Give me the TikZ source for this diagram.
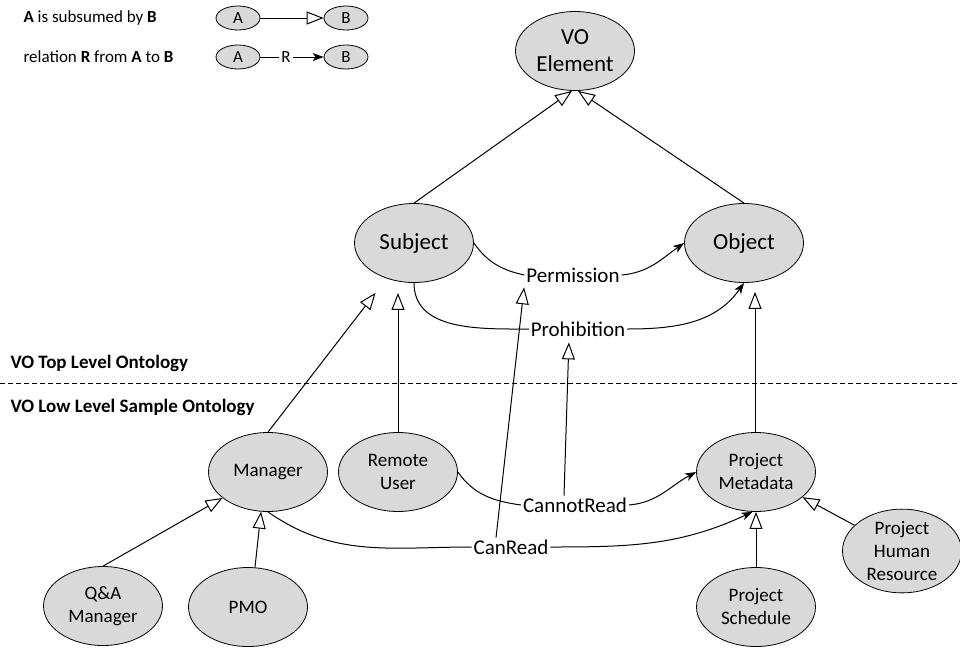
\documentclass[tikz,border=0pt]{standalone}
\usepackage{fontspec}
\setmainfont{Carlito}
\usetikzlibrary{shapes.geometric, arrows.meta}

\begin{document}
\begin{tikzpicture}[x=1pt, y=-1pt, line width=1pt,
  concept/.style={ellipse, draw, line width=0.8pt, fill=gray!30, minimum width=119pt, minimum height=79pt, inner sep=0pt, align=center},
  bigtext/.style={font=\fontsize{23}{27}\selectfont},
  smalltext/.style={font=\fontsize{19}{23}\selectfont},
  relname/.style={font=\fontsize{21}{25}\selectfont, inner sep=1.5pt},
  heading/.style={font=\fontsize{19}{23}\selectfont\bfseries, anchor=west, inner sep=0pt},
  legtext/.style={font=\fontsize{17}{20}\selectfont, inner sep=0pt},
  legconcept/.style={ellipse, draw, line width=0.8pt, fill=gray!30, minimum width=44pt, minimum height=24pt, inner sep=0pt, font=\fontsize{17}{20}\selectfont},
  isa/.style={-{Triangle[open, length=17pt, width=13pt]}},
  relto/.style={-{Stealth[length=11pt, width=8pt, inset=3pt]}}
]
\useasboundingbox (0,0) rectangle (960,651);

% legend
\node[legtext, anchor=west] (legisa) at (23,18) {\textbf{A} is subsumed by \textbf{B}};
\node[legtext, anchor=west] (legrel) at (23,57) {relation \textbf{R} from \textbf{A} to \textbf{B}};
\node[legconcept] (la1) at (238,18) {A};
\node[legconcept] (lb1) at (346,18) {B};
\node[legconcept] (la2) at (238,57) {A};
\node[legconcept] (lb2) at (346,57) {B};
\node[legtext, inner sep=1.5pt] (lr) at (286,57) {R};
\draw[isa] (la1) -- (lb1);
\draw (la2) -- (lr);
\draw[relto] (lr) -- (lb2);

% top level
\node[concept, bigtext] (vo) at (575,51) {VO\\Element};
\node[concept, bigtext] (subject) at (414,243) {Subject};
\node[concept, bigtext] (object) at (744,243) {Object};
\node[relname] (permission) at (573,275) {Permission};
\node[relname] (prohibition) at (578,329) {Prohibition};

\draw[isa] (subject.north) -- ([xshift=-3pt]vo.south);
\draw[isa] (object.north) -- ([xshift=3pt]vo.south);
\draw (subject.east) to[out=-55, in=168] (permission.west);
\draw[relto] (permission.east) to[out=5, in=215] (object.west);
\draw (subject.south) to[out=-90, in=180] (prohibition.west);
\draw[relto] (prohibition.east) to[out=0, in=-125] (object.south);

% separator
\node[heading] (toplevel) at (10,363) {VO Top Level Ontology};
\node[heading] (lowlevel) at (10,407) {VO Low Level Sample Ontology};
\draw[line width=0.8pt, dash pattern=on 5pt off 3pt] (0,383) -- (960,383);

% low level
\node[concept, smalltext] (manager) at (268,472) {Manager};
\node[concept, smalltext] (remote) at (398,472) {Remote\\User};
\node[concept, smalltext] (metadata) at (756,472) {Project\\Metadata};
\node[concept, smalltext] (qa) at (103,606) {Q\&A\\Manager};
\node[concept, smalltext] (pmo) at (248,607) {PMO};
\node[concept, smalltext] (schedule) at (756,607) {Project\\Schedule};
\node[concept, smalltext] (human) at (902,551) {Project\\Human\\Resource};
\node[relname] (cannotread) at (575,505) {CannotRead};
\node[relname] (canread) at (511,547) {CanRead};

\draw[isa, shorten >=18pt] (manager.north) -- (subject);
\draw[isa, shorten >=10pt] (remote.north) -- (remote.north |- subject.south);
\draw[isa, shorten >=9pt] ([xshift=-1pt]metadata.north) -- ([xshift=-1pt]metadata.north |- object.south);
\draw[isa, shorten >=3pt] (canread.148) -- (permission.south west);
\draw[isa, shorten >=4pt] ([xshift=-11pt]cannotread.north) -- ([xshift=-9pt]prohibition.south);
\draw (remote.east) to[out=-55, in=172] (cannotread.west);
\draw[relto] (cannotread.east) to[out=5, in=208] (metadata.west);
\draw (manager.south) to[out=-35, in=180] (canread.west);
\draw[relto] (canread.east) to[out=0, in=205] (metadata.265);
\draw[isa] (qa.north) -- (manager);
\draw[isa] (pmo.80) -- (manager.260);
\draw[isa] (schedule.north) -- (metadata.south);
\draw[isa] (human) -- (metadata);
\end{tikzpicture}
\end{document}
